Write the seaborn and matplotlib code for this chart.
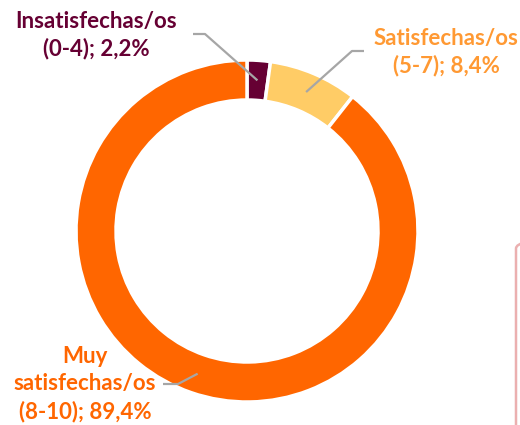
import numpy as np
import matplotlib
matplotlib.use("Agg")
import matplotlib.pyplot as plt
import seaborn as sns
from matplotlib.patches import FancyBboxPatch

sns.set_theme(style="white")
plt.rcParams['font.family'] = ['Lato', 'DejaVu Sans']

# data
labels = ["Insatisfechas/os\n(0-4); 2,2%", "Satisfechas/os\n(5-7); 8,4%", "Muy\nsatisfechas/os\n(8-10); 89,4%"]
values = [2.2, 8.4, 89.4]
colors = ["#660033", "#FFCC66", "#FF6600"]
text_colors = ["#660033", "#FF9933", "#FF6600"]

W, H = 520, 425
fig = plt.figure(figsize=(5.2, 4.25), dpi=100)
ax = fig.add_axes([0, 0, 1, 1])

cx, cy = 247, H - 231
R, ring = 171, 40
wedges, _ = ax.pie(values, colors=colors, startangle=90, counterclock=False,
                   center=(cx, cy), radius=R, frame=True,
                   wedgeprops=dict(width=ring, edgecolor='white', linewidth=2.5))
ax.set_xlim(0, W)
ax.set_ylim(0, H)
ax.set_aspect('equal')
ax.axis('off')

# label text positions (pixel coords from top) and leader elbows
text_pos = [(96, 35), (446, 52), (85, 384)]
elbows = [((193, 34), (205, 34)), ((364, 51), (352, 51)), ((163, 384), (178, 384))]

rmid = R - ring / 2
cum = np.cumsum([0] + values[:-1])
for i, w in enumerate(wedges):
    ang = np.deg2rad(90 - (cum[i] + values[i] / 2) * 3.6)
    px, py = cx + rmid * np.cos(ang), cy + rmid * np.sin(ang)
    (x0, y0), (x1, y1) = elbows[i]
    ax.plot([x0, x1, px], [H - y0, H - y1, py], color="#A6A6A6", lw=1.6,
            solid_capstyle='butt', zorder=5)
    tx, ty = text_pos[i]
    ax.text(tx, H - ty, labels[i], ha='center', va='center', fontsize=16,
            fontweight='bold', color=text_colors[i], linespacing=1.35)

# partial pink box at the right edge
fig.patches.append(FancyBboxPatch((516 / W, -0.1), 0.1, (425 - 240) / H + 0.1,
                                  boxstyle="round,pad=0,rounding_size=0.02",
                                  transform=fig.transFigure, facecolor='none',
                                  edgecolor="#EBB0B0", lw=1.8))

fig.savefig("out.png", dpi=100)
